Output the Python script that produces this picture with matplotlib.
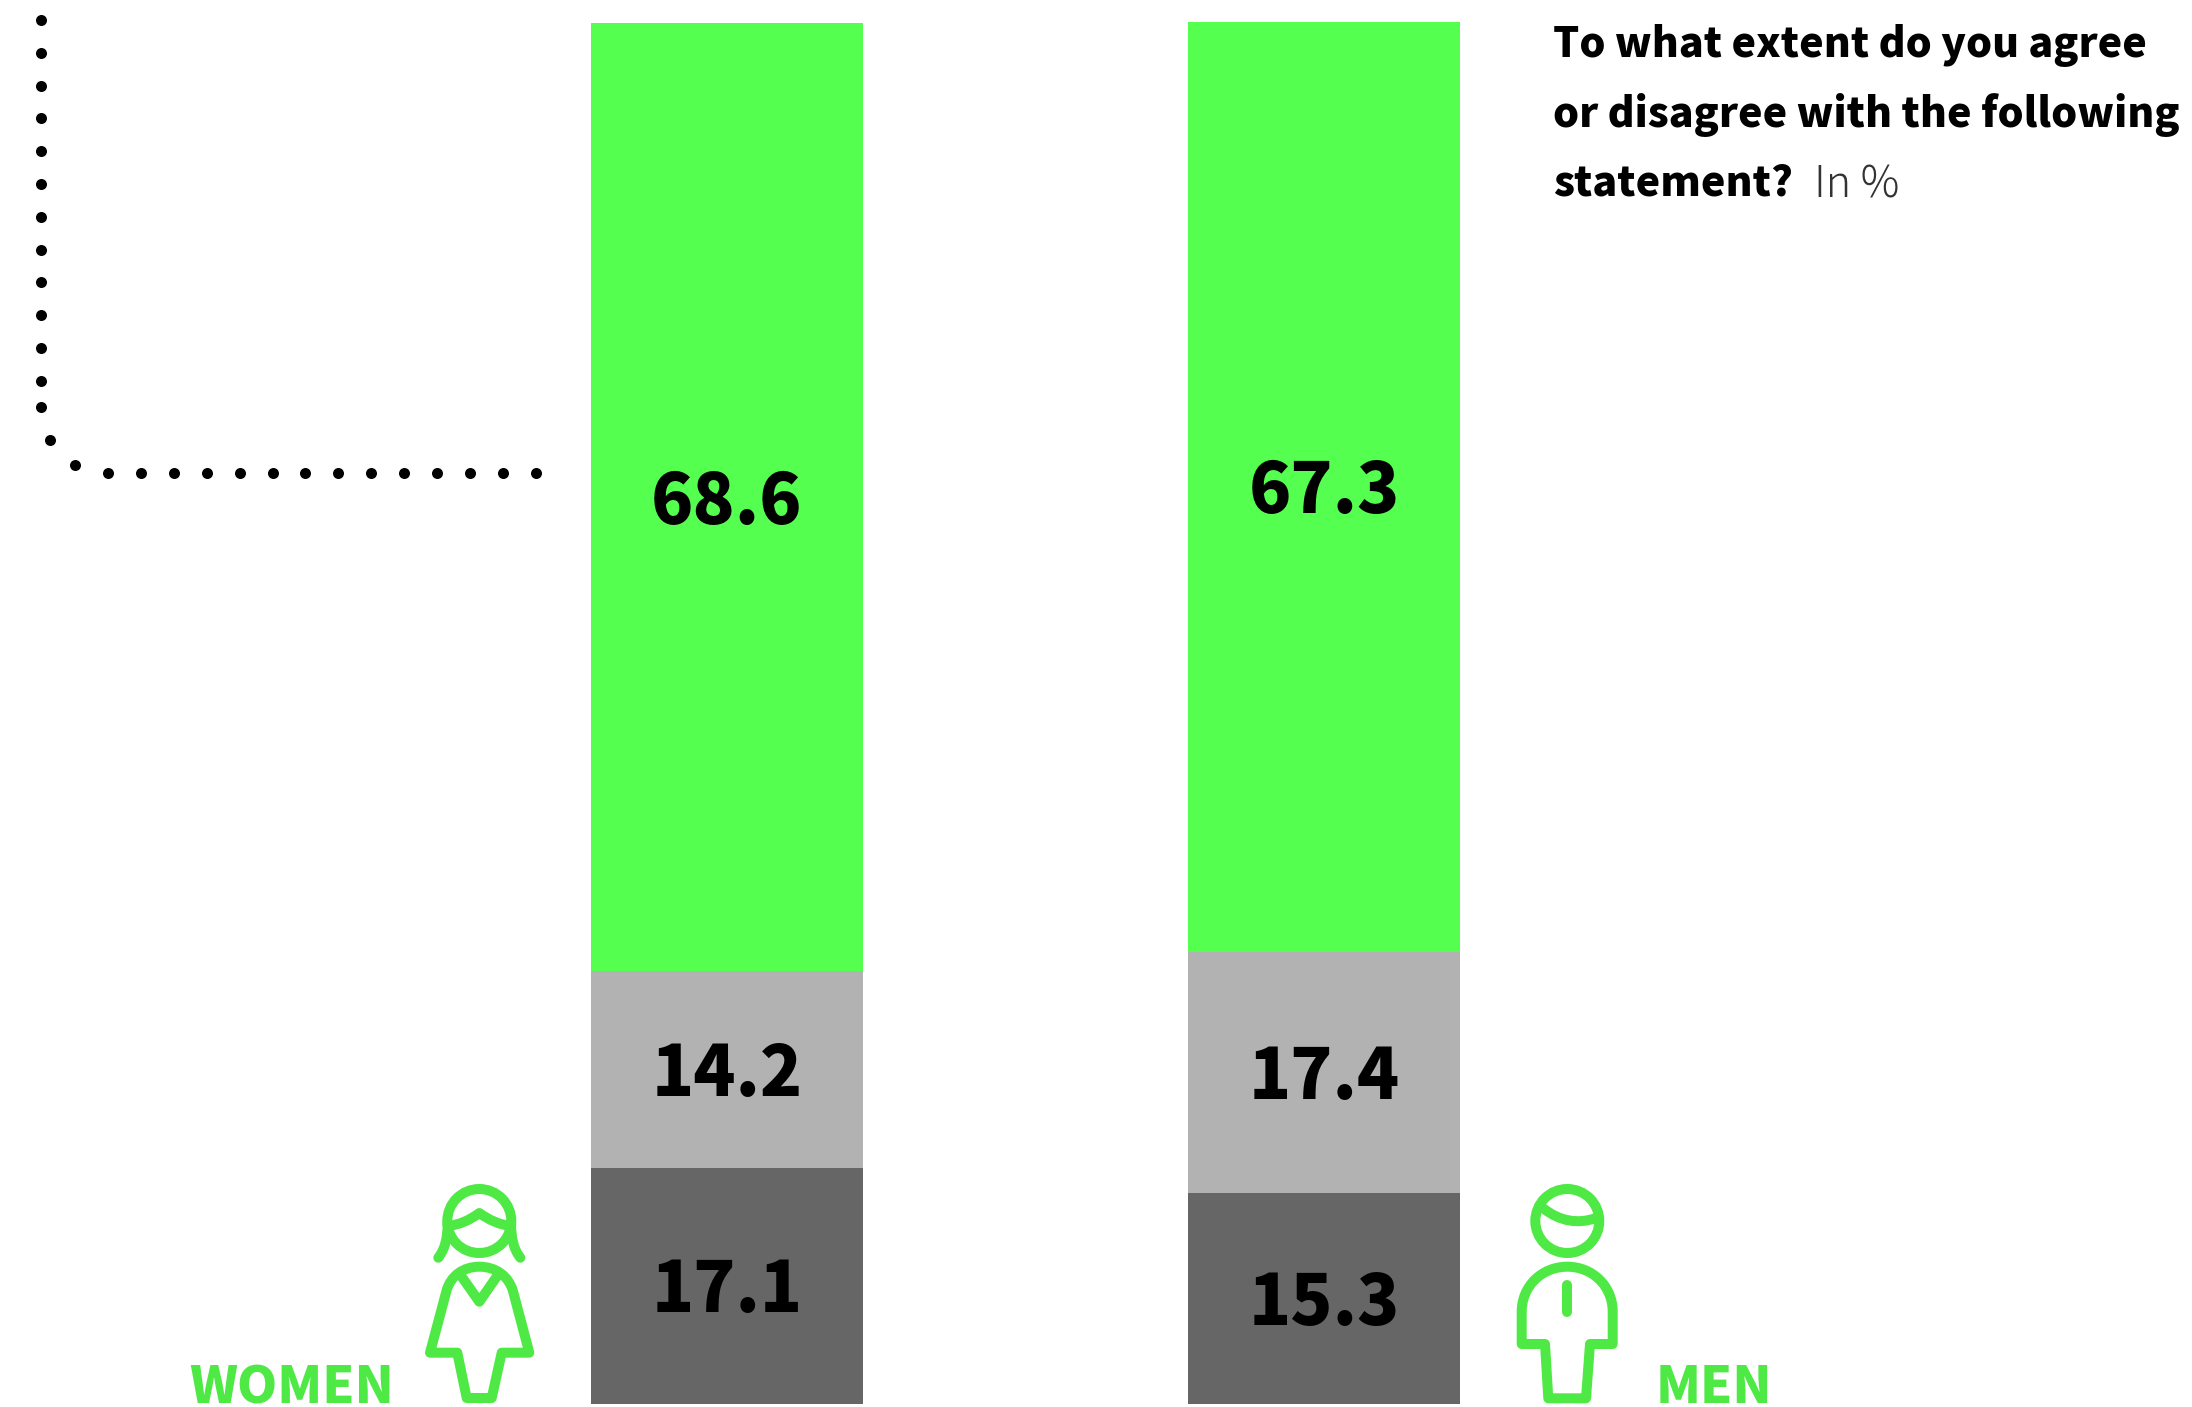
import matplotlib
matplotlib.use('Agg')
import matplotlib.pyplot as plt
from matplotlib.path import Path
from matplotlib.patches import Circle, PathPatch

W, H = 2192, 1407
GREEN = '#55ff4f'
LIGHT = '#b2b2b2'
DARK = '#666666'
ICON = '#4fe945'
FONT = ['Noto Sans CJK JP', 'DejaVu Sans']

groups = ['WOMEN', 'MEN']
agree = [68.6, 67.3]
neutral = [14.2, 17.4]
disagree = [17.1, 15.3]

fig = plt.figure(figsize=(W / 100, H / 100), dpi=100)

# overlay in pixels for the icons, dots and the text
px = fig.add_axes([0, 0, 1, 1])
px.set_xlim(0, W)
px.set_ylim(H, 0)
px.axis('off')

# bars live in their own axes, y in percent
ax = fig.add_axes([0, (H - 1404) / H, 1, 1382 / H])
ax.set_xlim(0, W)
ax.set_ylim(0, 100)
ax.axis('off')
ax.patch.set_alpha(0)

centers = [727, 1324]
bar_w = 272
for i, c in enumerate(centers):
    b1 = disagree[i]
    b2 = b1 + neutral[i]
    ax.bar(c, disagree[i], bar_w, color=DARK)
    ax.bar(c, neutral[i], bar_w, bottom=b1, color=LIGHT)
    ax.bar(c, agree[i], bar_w, bottom=b2, color=GREEN)
    for val, bottom in [(disagree[i], 0), (neutral[i], b1), (agree[i], b2)]:
        # digits centred on the segment, so baseline sits half a digit lower
        ax.annotate(f'{val}', (c, bottom + val / 2), xytext=(0, -19), textcoords='offset points',
                    ha='center', va='baseline', fontsize=50, fontweight='black', family=FONT, color='black')

# dotted leader
dots = [(41, 20 + 32.8 * k) for k in range(12)]
dots += [(41, 407), (50, 440), (75, 464.5)]
dots += [(108 + 32.9 * k, 473) for k in range(14)]
px.scatter([d[0] for d in dots], [d[1] for d in dots], s=63, color='black', linewidths=0)

# question text
px.text(1553, 57, 'To what extent do you agree', fontsize=29.6, fontweight='black', family=FONT, va='baseline')
px.text(1553, 127, 'or disagree with the following', fontsize=29.6, fontweight='black', family=FONT, va='baseline')
px.text(1553, 196, 'statement?', fontsize=29.6, fontweight='black', family=FONT, va='baseline')
px.text(1814, 197, 'In %', fontsize=31, fontweight='light', family=FONT, va='baseline', color='#333333')

# group labels
px.text(189, 1403, groups[0], fontsize=37, fontweight='black', family=FONT, color=ICON, va='baseline')
px.text(1656, 1403, groups[1], fontsize=37, fontweight='black', family=FONT, color=ICON, va='baseline')


def stroke(verts, codes, closed=False):
    verts = list(verts)
    codes = [{'M': Path.MOVETO, 'L': Path.LINETO, 'C': Path.CURVE4}[c] for c in codes]
    if closed:
        verts.append(verts[0])
        codes.append(Path.CLOSEPOLY)
    px.add_patch(PathPatch(Path(verts, codes), fill=False, ec=ICON, lw=7.2,
                           capstyle='round', joinstyle='round'))


# woman icon
px.add_patch(Circle((479.3, 1221), 32, fill=False, ec=ICON, lw=7.2))
stroke([(447.7, 1226), (459, 1225), (470, 1220), (479.3, 1213), (489, 1220), (500, 1225), (511, 1226)],
       'MCCCCCC')
stroke([(447.7, 1222), (447.7, 1238), (445, 1249), (438.3, 1257.7)], 'MCCC')
stroke([(511, 1222), (511, 1238), (513.5, 1249), (520.3, 1257.7)], 'MCCC')
stroke([(430, 1352.7), (446.7, 1290), (451, 1276), (463, 1266.7), (479.3, 1266.7),
        (496, 1266.7), (508, 1276), (512.7, 1290), (529.3, 1352.7), (501.7, 1352.7),
        (491.7, 1398), (466.7, 1398), (457.3, 1352.7)],
       'MLCCCCCCLLLLL', closed=True)
stroke([(461.7, 1276.7), (479.3, 1301.7), (496.7, 1276.7)], 'MLL')

# man icon
px.add_patch(Circle((1567.3, 1221), 32, fill=False, ec=ICON, lw=7.2))
stroke([(1543.3, 1208.3), (1560, 1221.7), (1578.3, 1224), (1595, 1218.3)], 'MCCC')
stroke([(1567.3, 1285), (1567.3, 1312.3)], 'ML')
stroke([(1521.7, 1344), (1521.7, 1311.7), (1521.7, 1286), (1542, 1266.7), (1567.3, 1266.7),
        (1592.5, 1266.7), (1612.7, 1286), (1612.7, 1311.7), (1612.7, 1344), (1590, 1344),
        (1586, 1398.3), (1548.3, 1398.3), (1545, 1344)],
       'MLCCCCCCLLLLL', closed=True)

fig.savefig('out.png', dpi=100, facecolor='white')
